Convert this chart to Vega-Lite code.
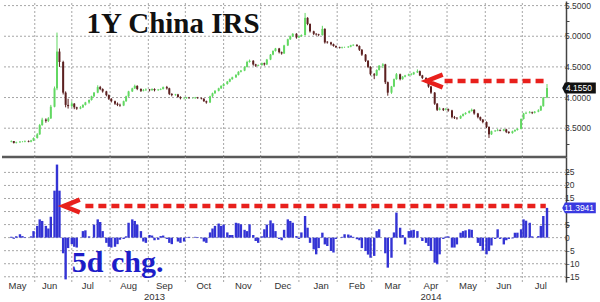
{
"$schema": "https://vega.github.io/schema/vega-lite/v6.json",
"padding": 0,
"background": "white",
"bounds": "flush",
"spacing": 0,
"config": {"view": {"stroke": null}, "axis": {"tickColor": "#444", "domainColor": "#444", "labelFont": "Liberation Sans", "labelColor": "#333"}},
"datasets": {
"m": [{"d":"2013-06-01"},{"d":"2013-07-01"},{"d":"2013-08-01"},{"d":"2013-09-01"},{"d":"2013-10-01"},{"d":"2013-11-01"},{"d":"2013-12-01"},{"d":"2014-01-01"},{"d":"2014-02-01"},{"d":"2014-03-01"},{"d":"2014-04-01"},{"d":"2014-05-01"},{"d":"2014-06-01"},{"d":"2014-07-01"}],
"gt": [{"v":3.5},{"v":4.0},{"v":4.5},{"v":5.0},{"v":5.5}],
"gb": [{"v":-15},{"v":-10},{"v":-5},{"v":0},{"v":5},{"v":10},{"v":15},{"v":20},{"v":25}],
"gbl": [{"v":-15},{"v":-10},{"v":-5},{"v":0},{"v":5},{"v":15},{"v":20},{"v":25}],
"xl": [{"d":"2013-05-18","t":"May"},{"d":"2013-06-13","t":"Jun"},{"d":"2013-07-14","t":"Jul"},{"d":"2013-08-16","t":"Aug"},{"d":"2013-09-14","t":"Sep"},{"d":"2013-10-16","t":"Oct"},{"d":"2013-11-17","t":"Nov"},{"d":"2013-12-19","t":"Dec"},{"d":"2014-01-19","t":"Jan"},{"d":"2014-02-17","t":"Feb"},{"d":"2014-03-18","t":"Mar"},{"d":"2014-04-18","t":"Apr"},{"d":"2014-05-18","t":"May"},{"d":"2014-06-16","t":"Jun"},{"d":"2014-07-16","t":"Jul"}],
"yl": [{"d":"2013-09-06","t":"2013"},{"d":"2014-04-18","t":"2014"}],
"p": [
{"d":"2013-05-13","o":3.28,"h":3.30,"l":3.27,"c":3.29,"g":0.3},
{"d":"2013-05-15","o":3.29,"h":3.29,"l":3.25,"c":3.26,"g":-0.4},
{"d":"2013-05-17","o":3.26,"h":3.28,"l":3.25,"c":3.27,"g":0.5},
{"d":"2013-05-20","o":3.27,"h":3.29,"l":3.26,"c":3.28,"g":1.3},
{"d":"2013-05-22","o":3.28,"h":3.29,"l":3.27,"c":3.28,"g":0.6},
{"d":"2013-05-24","o":3.28,"h":3.30,"l":3.27,"c":3.29,"g":0.2},
{"d":"2013-05-27","o":3.29,"h":3.30,"l":3.27,"c":3.28,"g":0},
{"d":"2013-05-29","o":3.28,"h":3.31,"l":3.27,"c":3.30,"g":0.5},
{"d":"2013-05-31","o":3.30,"h":3.35,"l":3.29,"c":3.34,"g":2.5},
{"d":"2013-06-03","o":3.34,"h":3.42,"l":3.33,"c":3.40,"g":4.5},
{"d":"2013-06-05","o":3.40,"h":3.57,"l":3.39,"c":3.55,"g":7.0},
{"d":"2013-06-07","o":3.55,"h":3.67,"l":3.54,"c":3.64,"g":6.4},
{"d":"2013-06-10","o":3.64,"h":3.66,"l":3.59,"c":3.62,"g":4.5},
{"d":"2013-06-12","o":3.62,"h":3.68,"l":3.60,"c":3.66,"g":3.5},
{"d":"2013-06-14","o":3.66,"h":3.88,"l":3.65,"c":3.85,"g":8.0},
{"d":"2013-06-17","o":3.85,"h":4.18,"l":3.84,"c":4.15,"g":18},
{"d":"2013-06-19","o":4.15,"h":5.06,"l":4.12,"c":4.75,"g":28},
{"d":"2013-06-21","o":4.75,"h":4.80,"l":4.50,"c":4.58,"g":18},
{"d":"2013-06-24","o":4.58,"h":4.60,"l":4.05,"c":4.08,"g":-6},
{"d":"2013-06-26","o":4.08,"h":4.10,"l":3.84,"c":3.88,"g":-16},
{"d":"2013-06-28","o":3.88,"h":3.98,"l":3.82,"c":3.86,"g":-4},
{"d":"2013-07-01","o":3.86,"h":3.94,"l":3.84,"c":3.90,"g":-2.5},
{"d":"2013-07-03","o":3.90,"h":3.91,"l":3.81,"c":3.84,"g":-3.5},
{"d":"2013-07-05","o":3.84,"h":3.85,"l":3.80,"c":3.82,"g":-3.8},
{"d":"2013-07-08","o":3.82,"h":3.86,"l":3.81,"c":3.84,"g":0},
{"d":"2013-07-10","o":3.84,"h":3.89,"l":3.83,"c":3.88,"g":2.5},
{"d":"2013-07-12","o":3.88,"h":3.93,"l":3.87,"c":3.92,"g":2.8},
{"d":"2013-07-15","o":3.92,"h":3.97,"l":3.90,"c":3.96,"g":0.5},
{"d":"2013-07-17","o":3.96,"h":4.03,"l":3.95,"c":4.02,"g":0},
{"d":"2013-07-19","o":4.02,"h":4.09,"l":4.01,"c":4.08,"g":5},
{"d":"2013-07-22","o":4.08,"h":4.20,"l":4.07,"c":4.17,"g":7},
{"d":"2013-07-24","o":4.17,"h":4.19,"l":4.12,"c":4.14,"g":6},
{"d":"2013-07-26","o":4.14,"h":4.15,"l":4.08,"c":4.10,"g":2.5},
{"d":"2013-07-29","o":4.10,"h":4.11,"l":4.02,"c":4.04,"g":-2},
{"d":"2013-07-31","o":4.04,"h":4.05,"l":3.96,"c":3.98,"g":-3.5},
{"d":"2013-08-02","o":3.98,"h":3.99,"l":3.92,"c":3.94,"g":-3.8},
{"d":"2013-08-05","o":3.94,"h":3.95,"l":3.88,"c":3.90,"g":-3.5},
{"d":"2013-08-07","o":3.90,"h":3.92,"l":3.86,"c":3.88,"g":-2.5},
{"d":"2013-08-09","o":3.88,"h":3.90,"l":3.85,"c":3.87,"g":-0.8},
{"d":"2013-08-12","o":3.87,"h":3.95,"l":3.86,"c":3.94,"g":-0.5},
{"d":"2013-08-14","o":3.94,"h":4.03,"l":3.93,"c":4.02,"g":0.5},
{"d":"2013-08-16","o":4.02,"h":4.11,"l":4.01,"c":4.10,"g":5.7},
{"d":"2013-08-19","o":4.10,"h":4.16,"l":4.09,"c":4.15,"g":7},
{"d":"2013-08-21","o":4.15,"h":4.21,"l":4.14,"c":4.19,"g":6.4},
{"d":"2013-08-23","o":4.19,"h":4.20,"l":4.12,"c":4.14,"g":5},
{"d":"2013-08-26","o":4.14,"h":4.15,"l":4.09,"c":4.11,"g":2.5},
{"d":"2013-08-28","o":4.11,"h":4.14,"l":4.10,"c":4.12,"g":-1.5},
{"d":"2013-08-30","o":4.12,"h":4.15,"l":4.11,"c":4.13,"g":-2},
{"d":"2013-09-02","o":4.13,"h":4.14,"l":4.10,"c":4.12,"g":1},
{"d":"2013-09-04","o":4.12,"h":4.15,"l":4.11,"c":4.14,"g":0.8},
{"d":"2013-09-06","o":4.14,"h":4.15,"l":4.10,"c":4.12,"g":-1},
{"d":"2013-09-09","o":4.12,"h":4.14,"l":4.11,"c":4.13,"g":-0.8},
{"d":"2013-09-11","o":4.13,"h":4.15,"l":4.12,"c":4.14,"g":0.6},
{"d":"2013-09-13","o":4.14,"h":4.18,"l":4.13,"c":4.17,"g":0.8},
{"d":"2013-09-16","o":4.17,"h":4.19,"l":4.13,"c":4.15,"g":-0.5},
{"d":"2013-09-18","o":4.15,"h":4.16,"l":4.04,"c":4.06,"g":-2},
{"d":"2013-09-20","o":4.06,"h":4.07,"l":4.02,"c":4.04,"g":-2.5},
{"d":"2013-09-23","o":4.04,"h":4.06,"l":4.03,"c":4.05,"g":0},
{"d":"2013-09-25","o":4.05,"h":4.06,"l":4.00,"c":4.01,"g":-1.5},
{"d":"2013-09-27","o":4.01,"h":4.02,"l":3.97,"c":3.99,"g":-2},
{"d":"2013-09-30","o":3.99,"h":4.01,"l":3.97,"c":3.99,"g":-1.5},
{"d":"2013-10-02","o":3.99,"h":4.01,"l":3.98,"c":4.00,"g":0.2},
{"d":"2013-10-04","o":4.00,"h":4.01,"l":3.98,"c":3.99,"g":0.3},
{"d":"2013-10-07","o":3.99,"h":4.00,"l":3.98,"c":3.99,"g":0},
{"d":"2013-10-09","o":3.99,"h":4.01,"l":3.98,"c":4.00,"g":0.3},
{"d":"2013-10-11","o":4.00,"h":4.01,"l":3.98,"c":3.99,"g":0.2},
{"d":"2013-10-14","o":3.99,"h":4.00,"l":3.97,"c":3.98,"g":-0.3},
{"d":"2013-10-16","o":3.98,"h":3.99,"l":3.93,"c":3.94,"g":-1.5},
{"d":"2013-10-18","o":3.94,"h":3.95,"l":3.90,"c":3.92,"g":-2},
{"d":"2013-10-21","o":3.92,"h":4.03,"l":3.91,"c":4.02,"g":2},
{"d":"2013-10-23","o":4.02,"h":4.08,"l":4.01,"c":4.07,"g":3.5},
{"d":"2013-10-25","o":4.07,"h":4.12,"l":4.06,"c":4.11,"g":4.5},
{"d":"2013-10-28","o":4.11,"h":4.16,"l":4.10,"c":4.15,"g":5.4},
{"d":"2013-10-30","o":4.15,"h":4.20,"l":4.14,"c":4.19,"g":4.5},
{"d":"2013-11-01","o":4.19,"h":4.23,"l":4.18,"c":4.22,"g":5},
{"d":"2013-11-04","o":4.22,"h":4.27,"l":4.21,"c":4.26,"g":2},
{"d":"2013-11-06","o":4.26,"h":4.31,"l":4.25,"c":4.30,"g":1},
{"d":"2013-11-08","o":4.30,"h":4.34,"l":4.29,"c":4.33,"g":1},
{"d":"2013-11-11","o":4.33,"h":4.38,"l":4.32,"c":4.37,"g":5.7},
{"d":"2013-11-13","o":4.37,"h":4.43,"l":4.36,"c":4.42,"g":5.5},
{"d":"2013-11-15","o":4.42,"h":4.45,"l":4.41,"c":4.44,"g":5.1},
{"d":"2013-11-18","o":4.44,"h":4.51,"l":4.43,"c":4.50,"g":3},
{"d":"2013-11-20","o":4.50,"h":4.60,"l":4.49,"c":4.58,"g":2.5},
{"d":"2013-11-22","o":4.58,"h":4.62,"l":4.57,"c":4.60,"g":5.1},
{"d":"2013-11-25","o":4.60,"h":4.61,"l":4.52,"c":4.54,"g":1},
{"d":"2013-11-27","o":4.54,"h":4.55,"l":4.50,"c":4.52,"g":-1.3},
{"d":"2013-11-29","o":4.52,"h":4.54,"l":4.51,"c":4.53,"g":-2},
{"d":"2013-12-02","o":4.53,"h":4.57,"l":4.52,"c":4.56,"g":0.5},
{"d":"2013-12-04","o":4.56,"h":4.57,"l":4.52,"c":4.54,"g":3.2},
{"d":"2013-12-06","o":4.54,"h":4.63,"l":4.53,"c":4.62,"g":5},
{"d":"2013-12-09","o":4.62,"h":4.71,"l":4.61,"c":4.70,"g":6.6},
{"d":"2013-12-11","o":4.70,"h":4.77,"l":4.69,"c":4.76,"g":5.5},
{"d":"2013-12-13","o":4.76,"h":4.81,"l":4.75,"c":4.80,"g":2.5},
{"d":"2013-12-16","o":4.80,"h":4.81,"l":4.72,"c":4.74,"g":-0.5},
{"d":"2013-12-18","o":4.74,"h":4.75,"l":4.70,"c":4.72,"g":-1},
{"d":"2013-12-20","o":4.72,"h":4.86,"l":4.71,"c":4.85,"g":3},
{"d":"2013-12-23","o":4.85,"h":4.96,"l":4.84,"c":4.95,"g":7},
{"d":"2013-12-25","o":4.95,"h":5.01,"l":4.94,"c":5.00,"g":6.4},
{"d":"2013-12-27","o":5.00,"h":5.05,"l":4.99,"c":5.04,"g":5.7},
{"d":"2013-12-30","o":5.04,"h":5.05,"l":4.96,"c":4.98,"g":0.6},
{"d":"2014-01-01","o":4.98,"h":5.01,"l":4.97,"c":5.00,"g":-0.5},
{"d":"2014-01-03","o":5.00,"h":5.03,"l":4.99,"c":5.02,"g":2},
{"d":"2014-01-06","o":5.02,"h":5.38,"l":5.01,"c":5.30,"g":8.3},
{"d":"2014-01-08","o":5.30,"h":5.31,"l":5.18,"c":5.20,"g":3.8},
{"d":"2014-01-10","o":5.20,"h":5.21,"l":5.06,"c":5.08,"g":-2},
{"d":"2014-01-13","o":5.08,"h":5.09,"l":5.02,"c":5.04,"g":-4.5},
{"d":"2014-01-15","o":5.04,"h":5.05,"l":5.01,"c":5.03,"g":-6.4},
{"d":"2014-01-17","o":5.03,"h":5.04,"l":5.00,"c":5.02,"g":-4},
{"d":"2014-01-20","o":5.02,"h":5.17,"l":5.01,"c":5.12,"g":1.9},
{"d":"2014-01-22","o":5.12,"h":5.13,"l":4.88,"c":4.90,"g":-2.6},
{"d":"2014-01-24","o":4.91,"h":4.92,"l":4.88,"c":4.90,"g":-3.2},
{"d":"2014-01-27","o":4.90,"h":4.91,"l":4.85,"c":4.87,"g":-5.1},
{"d":"2014-01-29","o":4.87,"h":4.88,"l":4.83,"c":4.84,"g":-5.7},
{"d":"2014-01-31","o":4.84,"h":4.85,"l":4.81,"c":4.82,"g":-0.5},
{"d":"2014-02-03","o":4.82,"h":4.83,"l":4.80,"c":4.81,"g":0},
{"d":"2014-02-05","o":4.81,"h":4.83,"l":4.80,"c":4.82,"g":0.3},
{"d":"2014-02-07","o":4.82,"h":4.83,"l":4.81,"c":4.82,"g":1.3},
{"d":"2014-02-10","o":4.82,"h":4.84,"l":4.81,"c":4.83,"g":1.2},
{"d":"2014-02-12","o":4.83,"h":4.86,"l":4.82,"c":4.85,"g":0.8},
{"d":"2014-02-14","o":4.85,"h":4.87,"l":4.84,"c":4.86,"g":0.3},
{"d":"2014-02-17","o":4.86,"h":4.87,"l":4.83,"c":4.84,"g":-0.6},
{"d":"2014-02-19","o":4.84,"h":4.85,"l":4.76,"c":4.78,"g":-1},
{"d":"2014-02-21","o":4.78,"h":4.79,"l":4.68,"c":4.70,"g":-4},
{"d":"2014-02-24","o":4.70,"h":4.71,"l":4.58,"c":4.60,"g":-5.1},
{"d":"2014-02-26","o":4.60,"h":4.61,"l":4.48,"c":4.50,"g":-6.5},
{"d":"2014-02-28","o":4.50,"h":4.51,"l":4.36,"c":4.38,"g":-7.7},
{"d":"2014-03-03","o":4.38,"h":4.40,"l":4.30,"c":4.36,"g":-7},
{"d":"2014-03-05","o":4.36,"h":4.46,"l":4.35,"c":4.45,"g":2.5},
{"d":"2014-03-07","o":4.45,"h":4.53,"l":4.44,"c":4.52,"g":3.2},
{"d":"2014-03-10","o":4.52,"h":4.56,"l":4.48,"c":4.54,"g":0},
{"d":"2014-03-12","o":4.54,"h":4.55,"l":4.22,"c":4.25,"g":-6},
{"d":"2014-03-14","o":4.25,"h":4.26,"l":4.03,"c":4.08,"g":-11.5},
{"d":"2014-03-17","o":4.08,"h":4.19,"l":4.06,"c":4.18,"g":-7.7},
{"d":"2014-03-19","o":4.18,"h":4.31,"l":4.17,"c":4.30,"g":2},
{"d":"2014-03-21","o":4.30,"h":4.40,"l":4.29,"c":4.38,"g":9.6},
{"d":"2014-03-24","o":4.38,"h":4.39,"l":4.28,"c":4.30,"g":3.8},
{"d":"2014-03-26","o":4.30,"h":4.35,"l":4.29,"c":4.34,"g":1},
{"d":"2014-03-28","o":4.34,"h":4.37,"l":4.33,"c":4.36,"g":-2.6},
{"d":"2014-03-31","o":4.36,"h":4.39,"l":4.35,"c":4.38,"g":2.5},
{"d":"2014-04-02","o":4.37,"h":4.40,"l":4.36,"c":4.38,"g":2.8},
{"d":"2014-04-04","o":4.38,"h":4.42,"l":4.37,"c":4.41,"g":3},
{"d":"2014-04-07","o":4.41,"h":4.46,"l":4.40,"c":4.43,"g":2.5},
{"d":"2014-04-09","o":4.43,"h":4.44,"l":4.35,"c":4.36,"g":0},
{"d":"2014-04-11","o":4.36,"h":4.37,"l":4.30,"c":4.32,"g":-1.3},
{"d":"2014-04-14","o":4.32,"h":4.33,"l":4.24,"c":4.26,"g":-2},
{"d":"2014-04-16","o":4.26,"h":4.27,"l":4.16,"c":4.18,"g":-3.2},
{"d":"2014-04-18","o":4.18,"h":4.19,"l":4.06,"c":4.08,"g":-5.1},
{"d":"2014-04-21","o":4.08,"h":4.09,"l":3.88,"c":3.90,"g":-9.6},
{"d":"2014-04-23","o":3.90,"h":3.91,"l":3.78,"c":3.80,"g":-10.2},
{"d":"2014-04-25","o":3.80,"h":3.84,"l":3.79,"c":3.82,"g":-6.4},
{"d":"2014-04-28","o":3.82,"h":3.83,"l":3.78,"c":3.80,"g":-0.5},
{"d":"2014-04-30","o":3.80,"h":3.83,"l":3.79,"c":3.81,"g":0.4},
{"d":"2014-05-02","o":3.81,"h":3.82,"l":3.77,"c":3.79,"g":0.5},
{"d":"2014-05-05","o":3.79,"h":3.80,"l":3.66,"c":3.68,"g":-3.8},
{"d":"2014-05-07","o":3.68,"h":3.70,"l":3.65,"c":3.67,"g":-3.8},
{"d":"2014-05-09","o":3.67,"h":3.68,"l":3.64,"c":3.66,"g":-2.6},
{"d":"2014-05-12","o":3.66,"h":3.71,"l":3.65,"c":3.70,"g":1.9},
{"d":"2014-05-14","o":3.70,"h":3.74,"l":3.69,"c":3.73,"g":2.5},
{"d":"2014-05-16","o":3.73,"h":3.76,"l":3.72,"c":3.75,"g":2.8},
{"d":"2014-05-19","o":3.75,"h":3.79,"l":3.74,"c":3.78,"g":3.2},
{"d":"2014-05-21","o":3.78,"h":3.82,"l":3.77,"c":3.80,"g":3},
{"d":"2014-05-23","o":3.80,"h":3.81,"l":3.72,"c":3.74,"g":0},
{"d":"2014-05-26","o":3.74,"h":3.75,"l":3.66,"c":3.68,"g":-2},
{"d":"2014-05-28","o":3.68,"h":3.69,"l":3.62,"c":3.64,"g":-3.2},
{"d":"2014-05-30","o":3.64,"h":3.65,"l":3.58,"c":3.60,"g":-5},
{"d":"2014-06-02","o":3.60,"h":3.61,"l":3.50,"c":3.52,"g":-6.4},
{"d":"2014-06-04","o":3.52,"h":3.53,"l":3.34,"c":3.40,"g":-5.1},
{"d":"2014-06-06","o":3.40,"h":3.46,"l":3.39,"c":3.45,"g":-3},
{"d":"2014-06-09","o":3.45,"h":3.47,"l":3.44,"c":3.46,"g":-0.5},
{"d":"2014-06-11","o":3.46,"h":3.49,"l":3.45,"c":3.47,"g":3.2},
{"d":"2014-06-13","o":3.47,"h":3.48,"l":3.45,"c":3.46,"g":-0.5},
{"d":"2014-06-16","o":3.46,"h":3.49,"l":3.45,"c":3.48,"g":-2.6},
{"d":"2014-06-18","o":3.48,"h":3.49,"l":3.42,"c":3.44,"g":-1},
{"d":"2014-06-20","o":3.44,"h":3.45,"l":3.41,"c":3.42,"g":-0.5},
{"d":"2014-06-23","o":3.42,"h":3.46,"l":3.41,"c":3.45,"g":-0.3},
{"d":"2014-06-25","o":3.45,"h":3.48,"l":3.44,"c":3.47,"g":1.9},
{"d":"2014-06-27","o":3.47,"h":3.50,"l":3.46,"c":3.49,"g":1.9},
{"d":"2014-06-30","o":3.49,"h":3.66,"l":3.48,"c":3.65,"g":3.2},
{"d":"2014-07-02","o":3.65,"h":3.75,"l":3.64,"c":3.74,"g":7},
{"d":"2014-07-04","o":3.74,"h":3.77,"l":3.73,"c":3.75,"g":6.5},
{"d":"2014-07-07","o":3.75,"h":3.78,"l":3.74,"c":3.76,"g":5.7},
{"d":"2014-07-09","o":3.76,"h":3.77,"l":3.73,"c":3.75,"g":0.5},
{"d":"2014-07-11","o":3.75,"h":3.78,"l":3.74,"c":3.77,"g":0},
{"d":"2014-07-14","o":3.77,"h":3.81,"l":3.76,"c":3.79,"g":0.6},
{"d":"2014-07-16","o":3.79,"h":3.87,"l":3.78,"c":3.86,"g":4.5},
{"d":"2014-07-18","o":3.86,"h":4.01,"l":3.85,"c":4.00,"g":8.3},
{"d":"2014-07-21","o":4.00,"h":4.22,"l":3.99,"c":4.155,"g":11.3941}
]},
"vconcat": [
{
"width": 564, "height": 156,
"layer": [
{"data": {"name": "gt"}, "mark": {"type": "rule", "color": "#a6a6a6", "strokeDash": [2,2], "strokeWidth": 1},
 "encoding": {"y": {"field": "v", "type": "quantitative", "scale": {"domain": [3.03, 5.575]},
   "axis": {"orient": "right", "title": null, "values": [3.25,3.5,3.75,4,4.25,4.5,4.75,5,5.25,5.5], "labels": false, "grid": false, "tickSize": 3, "domainWidth": 1.5}}}},
{"data": {"name": "gt"}, "mark": {"type": "text", "align": "left", "baseline": "middle", "dx": 4, "font": "Liberation Sans", "fontSize": 8.5, "color": "#333"},
 "encoding": {"x": {"datum": {"year":2014,"month":8,"date":1,"hours":8,"utc":true}, "type": "temporal", "scale": {"domain": [{"year":2013,"month":5,"date":9,"hours":12,"utc":true},{"year":2014,"month":8,"date":1,"hours":8,"utc":true}]}, "axis": null},
  "y": {"field": "v", "type": "quantitative", "scale": {"domain": [3.03, 5.575]}, "axis": {"title": null}}, "text": {"field": "v", "type": "quantitative", "format": ".4f"}}},
{"data": {"name": "m"}, "mark": {"type": "rule", "color": "#a6a6a6", "strokeDash": [2,2], "strokeWidth": 1},
 "encoding": {"x": {"field": "d", "type": "temporal", "scale": {"domain": [{"year":2013,"month":5,"date":9,"hours":12,"utc":true},{"year":2014,"month":8,"date":1,"hours":8,"utc":true}]}, "axis": null},
  "y": {"datum": 3.03, "type": "quantitative", "scale": {"domain": [3.03, 5.575]}, "axis": {"title": null}}, "y2": {"datum": 5.575}}},
{"data": {"name": "p"}, "mark": {"type": "rule", "strokeWidth": 1},
 "encoding": {"x": {"field": "d", "type": "temporal", "scale": {"domain": [{"year":2013,"month":5,"date":9,"hours":12,"utc":true},{"year":2014,"month":8,"date":1,"hours":8,"utc":true}]}, "axis": null},
  "y": {"field": "l", "type": "quantitative", "scale": {"domain": [3.03, 5.575]}, "axis": {"title": null}},
  "y2": {"field": "h"},
  "color": {"condition": {"test": "datum.c >= datum.o", "value": "#62d862"}, "value": "#5c2020"}}},
{"data": {"name": "p"}, "mark": {"type": "bar", "size": 2},
 "encoding": {"x": {"field": "d", "type": "temporal", "scale": {"domain": [{"year":2013,"month":5,"date":9,"hours":12,"utc":true},{"year":2014,"month":8,"date":1,"hours":8,"utc":true}]}, "axis": null},
  "y": {"field": "o", "type": "quantitative", "scale": {"domain": [3.03, 5.575]}, "axis": {"title": null}},
  "y2": {"field": "c"},
  "color": {"condition": {"test": "datum.c >= datum.o", "value": "#62d862"}, "value": "#5c2020"}}},
{"data": {"values": [{"v": 3.03}]}, "mark": {"type": "rule", "color": "#5a5a5a", "strokeWidth": 2.5},
 "encoding": {"y": {"field": "v", "type": "quantitative", "scale": {"domain": [3.03, 5.575]}, "axis": {"title": null}}}},
{"data": {"values": [{"a": "2014-04-29", "b": "2014-07-20", "v": 4.27}]}, "mark": {"type": "rule", "color": "#e8201c", "strokeWidth": 4.5, "strokeDash": [8,5]},
 "encoding": {"x": {"field": "a", "type": "temporal", "scale": {"domain": [{"year":2013,"month":5,"date":9,"hours":12,"utc":true},{"year":2014,"month":8,"date":1,"hours":8,"utc":true}]}, "axis": null}, "x2": {"field": "b"},
  "y": {"field": "v", "type": "quantitative", "scale": {"domain": [3.03, 5.575]}, "axis": {"title": null}}}},
{"data": {"values": [{"a": "2014-04-21", "v": 4.27}]}, "mark": {"type": "point", "shape": "M1,-0.8L-1,0L1,0.8", "filled": false, "color": "#e8201c", "strokeWidth": 4.5, "size": 256, "opacity": 1},
 "encoding": {"x": {"field": "a", "type": "temporal", "scale": {"domain": [{"year":2013,"month":5,"date":9,"hours":12,"utc":true},{"year":2014,"month":8,"date":1,"hours":8,"utc":true}]}, "axis": null},
  "y": {"field": "v", "type": "quantitative", "scale": {"domain": [3.03, 5.575]}, "axis": {"title": null}}}},
{"data": {"values": [{"a": "2013-07-13", "v": 5.057, "t": "1Y China IRS"}]}, "mark": {"type": "text", "font": "Liberation Serif", "fontWeight": "bold", "fontSize": 29, "align": "left", "baseline": "alphabetic", "color": "#111"},
 "encoding": {"x": {"field": "a", "type": "temporal", "scale": {"domain": [{"year":2013,"month":5,"date":9,"hours":12,"utc":true},{"year":2014,"month":8,"date":1,"hours":8,"utc":true}]}, "axis": null},
  "y": {"field": "v", "type": "quantitative", "scale": {"domain": [3.03, 5.575]}, "axis": {"title": null}}, "text": {"field": "t"}}},
{"data": {"name": "p"}, "transform": [{"filter": "datum.c == 4.155"}], "mark": {"type": "point", "shape": "M0.95,0L1.12,-0.34L3.05,-0.34L3.05,0.34L1.12,0.34Z", "filled": true, "color": "#111", "size": 1024, "opacity": 1, "strokeWidth": 0},
 "encoding": {"x": {"field": "d", "type": "temporal", "scale": {"domain": [{"year":2013,"month":5,"date":9,"hours":12,"utc":true},{"year":2014,"month":8,"date":1,"hours":8,"utc":true}]}, "axis": null},
  "y": {"field": "c", "type": "quantitative", "scale": {"domain": [3.03, 5.575]}, "axis": {"title": null}}}},
{"data": {"name": "p"}, "transform": [{"filter": "datum.c == 4.155"}], "mark": {"type": "text", "dx": 32, "align": "center", "baseline": "middle", "color": "white", "font": "Liberation Sans", "fontSize": 8.5},
 "encoding": {"x": {"field": "d", "type": "temporal", "scale": {"domain": [{"year":2013,"month":5,"date":9,"hours":12,"utc":true},{"year":2014,"month":8,"date":1,"hours":8,"utc":true}]}, "axis": null},
  "y": {"field": "c", "type": "quantitative", "scale": {"domain": [3.03, 5.575]}, "axis": {"title": null}}, "text": {"field": "c", "type": "quantitative", "format": ".4f"}}}
]
},
{
"width": 564, "height": 125,
"layer": [
{"data": {"name": "gb"}, "mark": {"type": "rule", "color": "#a6a6a6", "strokeDash": [2,2], "strokeWidth": 1},
 "encoding": {"y": {"field": "v", "type": "quantitative", "scale": {"domain": [-17, 30.9]},
   "axis": {"orient": "right", "title": null, "values": [-15,-10,-5,0,5,10,15,20,25], "labels": false, "grid": false, "tickSize": 3, "domainWidth": 1.5}}}},
{"data": {"name": "gbl"}, "mark": {"type": "text", "align": "left", "baseline": "middle", "dx": 4, "font": "Liberation Sans", "fontSize": 8.5, "color": "#333"},
 "encoding": {"x": {"datum": {"year":2014,"month":8,"date":1,"hours":8,"utc":true}, "type": "temporal", "scale": {"domain": [{"year":2013,"month":5,"date":9,"hours":12,"utc":true},{"year":2014,"month":8,"date":1,"hours":8,"utc":true}]}, "axis": null},
  "y": {"field": "v", "type": "quantitative", "scale": {"domain": [-17, 30.9]}, "axis": {"title": null}}, "text": {"field": "v", "type": "quantitative", "format": "d"}}},
{"data": {"name": "m"}, "mark": {"type": "rule", "color": "#a6a6a6", "strokeDash": [2,2], "strokeWidth": 1},
 "encoding": {"x": {"field": "d", "type": "temporal", "scale": {"domain": [{"year":2013,"month":5,"date":9,"hours":12,"utc":true},{"year":2014,"month":8,"date":1,"hours":8,"utc":true}]}, "axis": null},
  "y": {"datum": -17, "type": "quantitative", "scale": {"domain": [-17, 30.9]}, "axis": {"title": null}}, "y2": {"datum": 30.9}}},
{"data": {"name": "xl"}, "mark": {"type": "text", "align": "center", "baseline": "top", "dy": -1, "font": "Liberation Sans", "fontSize": 9.5, "color": "#333"},
 "encoding": {"x": {"field": "d", "type": "temporal", "scale": {"domain": [{"year":2013,"month":5,"date":9,"hours":12,"utc":true},{"year":2014,"month":8,"date":1,"hours":8,"utc":true}]}, "axis": null},
  "y": {"datum": -17, "type": "quantitative", "scale": {"domain": [-17, 30.9]}, "axis": {"title": null}}, "text": {"field": "t"}}},
{"data": {"name": "yl"}, "mark": {"type": "text", "align": "center", "baseline": "top", "dy": 10, "font": "Liberation Sans", "fontSize": 9.5, "color": "#333"},
 "encoding": {"x": {"field": "d", "type": "temporal", "scale": {"domain": [{"year":2013,"month":5,"date":9,"hours":12,"utc":true},{"year":2014,"month":8,"date":1,"hours":8,"utc":true}]}, "axis": null},
  "y": {"datum": -17, "type": "quantitative", "scale": {"domain": [-17, 30.9]}, "axis": {"title": null}}, "text": {"field": "t"}}},
{"data": {"name": "p"}, "mark": {"type": "bar", "size": 2.4, "color": "#3333d4"},
 "encoding": {"x": {"field": "d", "type": "temporal", "scale": {"domain": [{"year":2013,"month":5,"date":9,"hours":12,"utc":true},{"year":2014,"month":8,"date":1,"hours":8,"utc":true}]}, "axis": null},
  "y": {"field": "g", "type": "quantitative", "scale": {"domain": [-17, 30.9]}, "axis": {"title": null}}}},
{"data": {"values": [{"a": "2013-07-12", "b": "2014-07-20", "v": 12.1}]}, "mark": {"type": "rule", "color": "#e8201c", "strokeWidth": 4.5, "strokeDash": [8,5]},
 "encoding": {"x": {"field": "a", "type": "temporal", "scale": {"domain": [{"year":2013,"month":5,"date":9,"hours":12,"utc":true},{"year":2014,"month":8,"date":1,"hours":8,"utc":true}]}, "axis": null}, "x2": {"field": "b"},
  "y": {"field": "v", "type": "quantitative", "scale": {"domain": [-17, 30.9]}, "axis": {"title": null}}}},
{"data": {"values": [{"a": "2013-07-01", "v": 12.1}]}, "mark": {"type": "point", "shape": "M1,-0.8L-1,0L1,0.8", "filled": false, "color": "#e8201c", "strokeWidth": 4.5, "size": 256, "opacity": 1},
 "encoding": {"x": {"field": "a", "type": "temporal", "scale": {"domain": [{"year":2013,"month":5,"date":9,"hours":12,"utc":true},{"year":2014,"month":8,"date":1,"hours":8,"utc":true}]}, "axis": null},
  "y": {"field": "v", "type": "quantitative", "scale": {"domain": [-17, 30.9]}, "axis": {"title": null}}}},
{"data": {"values": [{"a": "2013-07-01", "v": -13.0, "t": "5d chg."}]}, "mark": {"type": "text", "font": "Liberation Serif", "fontWeight": "bold", "fontSize": 30, "align": "left", "baseline": "alphabetic", "color": "#1d1dc8"},
 "encoding": {"x": {"field": "a", "type": "temporal", "scale": {"domain": [{"year":2013,"month":5,"date":9,"hours":12,"utc":true},{"year":2014,"month":8,"date":1,"hours":8,"utc":true}]}, "axis": null},
  "y": {"field": "v", "type": "quantitative", "scale": {"domain": [-17, 30.9]}, "axis": {"title": null}}, "text": {"field": "t"}}},
{"data": {"name": "p"}, "transform": [{"filter": "datum.g == 11.3941"}], "mark": {"type": "point", "shape": "M0.95,0L1.12,-0.34L3.05,-0.34L3.05,0.34L1.12,0.34Z", "filled": true, "color": "#3a3ae0", "size": 1024, "opacity": 1, "strokeWidth": 0},
 "encoding": {"x": {"field": "d", "type": "temporal", "scale": {"domain": [{"year":2013,"month":5,"date":9,"hours":12,"utc":true},{"year":2014,"month":8,"date":1,"hours":8,"utc":true}]}, "axis": null},
  "y": {"field": "g", "type": "quantitative", "scale": {"domain": [-17, 30.9]}, "axis": {"title": null}}}},
{"data": {"name": "p"}, "transform": [{"filter": "datum.g == 11.3941"}], "mark": {"type": "text", "dx": 32, "align": "center", "baseline": "middle", "color": "white", "font": "Liberation Sans", "fontSize": 8.5},
 "encoding": {"x": {"field": "d", "type": "temporal", "scale": {"domain": [{"year":2013,"month":5,"date":9,"hours":12,"utc":true},{"year":2014,"month":8,"date":1,"hours":8,"utc":true}]}, "axis": null},
  "y": {"field": "g", "type": "quantitative", "scale": {"domain": [-17, 30.9]}, "axis": {"title": null}}, "text": {"field": "g", "type": "quantitative", "format": ".4f"}}}
]
}
]
}
